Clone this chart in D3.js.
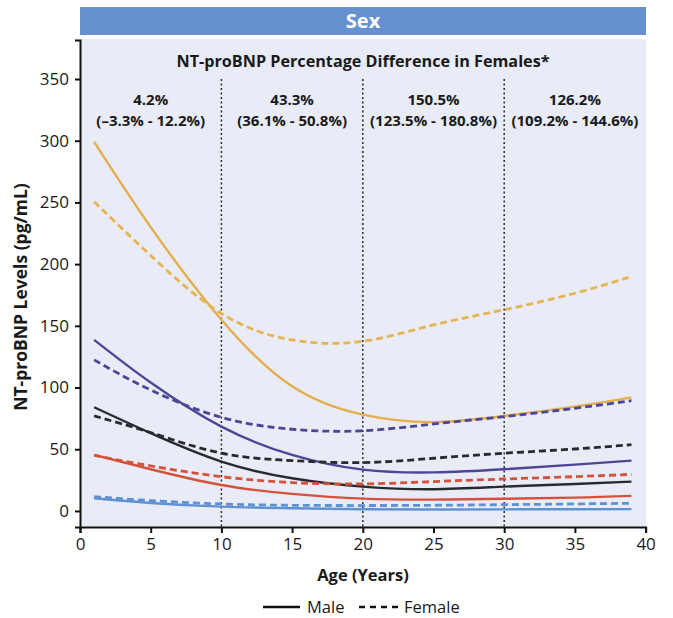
<!DOCTYPE html>
<html>
<head>
<meta charset="utf-8">
<script src="https://cdn.jsdelivr.net/npm/d3@7"></script>
<style>
  body { margin: 0; background: #fff; }
  svg { display: block; font-family: "Open Sans", sans-serif; }
</style>
</head>
<body>
<div id="chart"></div>
<script>

// --------------------------------------
//  Data
// --------------------------------------

const ages = [1, 5, 10, 15, 20, 25, 30, 35, 39];

const yellowMale   = [299, 230, 155, 101, 78, 72, 77, 84.5, 92];
const yellowFemale = [250.5, 207, 160, 138.6, 137.5, 150.7, 163, 176.4, 190];
const purpleMale   = [138.6, 104, 68.3, 45.4, 33.5, 31.3, 33.8, 37.5, 40.8];
const purpleFemale = [122.4, 98, 75.9, 66.2, 65, 70.5, 76.4, 83.2, 89.4];
const blackMale    = [84, 63, 40, 26.5, 19.7, 17.6, 19.7, 21.9, 23.8];
const blackFemale  = [77, 63.5, 46.8, 40.8, 39.2, 42.7, 46.8, 50.2, 53.7];
const redMale      = [45.4, 33.8, 21, 13.8, 10, 9.2, 9.9, 10.8, 12.2];
const redFemale    = [45, 36.5, 27.8, 23, 21.9, 23.8, 25.9, 27.8, 29.7];
const blueMale     = [10.3, 6.5, 3.5, 2.2, 1.4, 1.2, 1.3, 1.4, 1.5];
const blueFemale   = [11.6, 8.4, 5.7, 4.6, 4.4, 4.6, 5.1, 5.7, 6.2];

const dividers = [10, 20, 30];
const diffLabels = ["4.2%", "43.3%", "150.5%", "126.2%"];
const diffRanges = ["(\u20133.3% - 12.2%)", "(36.1% - 50.8%)", "(123.5% - 180.8%)", "(109.2% - 144.6%)"];
const diffCenters = [5, 15, 25, 35];

const xTicks = [0, 5, 10, 15, 20, 25, 30, 35, 40];
const yTicks = [0, 50, 100, 150, 200, 250, 300, 350];

const series = [
  {values: yellowMale,   color: "#e4ae4c", dashed: false},
  {values: yellowFemale, color: "#e6b352", dashed: true},
  {values: purpleMale,   color: "#4a4896", dashed: false},
  {values: purpleFemale, color: "#4a4896", dashed: true},
  {values: blackMale,    color: "#2a2a2e", dashed: false},
  {values: blackFemale,  color: "#2a2a2e", dashed: true},
  {values: redMale,      color: "#d4523c", dashed: false},
  {values: redFemale,    color: "#d4523c", dashed: true},
  {values: blueMale,     color: "#5e92d2", dashed: false},
  {values: blueFemale,   color: "#5e92d2", dashed: true}
];

// --------------------------------------
//  Canvas
// --------------------------------------

const width = 673;
const height = 618;
const plotLeft = 80, plotRight = 646, plotTop = 40, plotBottom = 527;

const svg = d3.select("#chart")
  .append("svg")
    .attr("width", width)
    .attr("height", height);

// --------------------------------------
//  Scales
// --------------------------------------

const x = d3.scaleLinear()
    .domain([0, 40])
    .range([plotLeft, 645.6]);

const y = d3.scaleLinear()
    .domain([-13, 381.6])
    .range([plotBottom, plotTop]);

// --------------------------------------
//  Header and panel
// --------------------------------------

svg.append("rect")
    .attr("x", plotLeft)
    .attr("y", 7)
    .attr("width", plotRight - plotLeft)
    .attr("height", 28)
    .attr("fill", "#6690d0");

svg.append("text")
    .attr("x", (plotLeft + plotRight) / 2)
    .attr("y", 28)
    .attr("text-anchor", "middle")
    .attr("fill", "#fff")
    .attr("font-weight", 700)
    .attr("font-size", 20)
    .text("Sex");

svg.append("rect")
    .attr("x", plotLeft)
    .attr("y", 39)
    .attr("width", plotRight - plotLeft)
    .attr("height", plotBottom - 39)
    .attr("fill", "#e9ecf7");

svg.append("text")
    .attr("x", (plotLeft + plotRight) / 2)
    .attr("y", 67)
    .attr("text-anchor", "middle")
    .attr("font-weight", 700)
    .attr("font-size", 16.2)
    .attr("fill", "#1a1a1a")
    .text("NT-proBNP Percentage Difference in Females*");

// dotted dividers
svg.selectAll(".divider")
  .data(dividers)
  .join("line")
    .attr("class", "divider")
    .attr("x1", d => x(d))
    .attr("x2", d => x(d))
    .attr("y1", y(350))
    .attr("y2", plotBottom)
    .attr("stroke", "#2a2a2a")
    .attr("stroke-width", 1.5)
    .attr("stroke-dasharray", "2,2.5");

svg.selectAll(".diff")
  .data(diffLabels)
  .join("text")
    .attr("class", "diff")
    .attr("x", (d, i) => x(diffCenters[i]))
    .attr("y", 105)
    .attr("text-anchor", "middle")
    .attr("font-weight", 700)
    .attr("font-size", 15)
    .attr("fill", "#1a1a1a")
    .text(d => d);

svg.selectAll(".range")
  .data(diffRanges)
  .join("text")
    .attr("class", "range")
    .attr("x", (d, i) => x(diffCenters[i]))
    .attr("y", 126)
    .attr("text-anchor", "middle")
    .attr("font-weight", 700)
    .attr("font-size", 15)
    .attr("fill", "#1a1a1a")
    .text(d => d);

// --------------------------------------
//  Lines
// --------------------------------------

const line = d3.line()
    .x((d, i) => x(ages[i]))
    .y(d => y(d))
    .curve(d3.curveNatural);

svg.selectAll(".series")
  .data(series)
  .join("path")
    .attr("class", "series")
    .attr("d", d => line(d.values))
    .attr("fill", "none")
    .attr("stroke", d => d.color)
    .attr("stroke-width", d => d.dashed ? 2.8 : 2.4)
    .attr("stroke-dasharray", d => d.dashed ? "7,4" : null);

// --------------------------------------
//  Axes
// --------------------------------------

const xAxis = svg.append("g")
    .attr("transform", `translate(0, ${plotBottom})`)
    .call(d3.axisBottom(x)
          .tickValues(xTicks)
          .tickSizeOuter(0)
          .tickSize(6)
          .tickPadding(5));

const yAxis = svg.append("g")
    .attr("transform", `translate(${plotLeft}, 0)`)
    .call(d3.axisLeft(y)
          .tickValues(yTicks)
          .tickSizeOuter(0)
          .tickSize(5)
          .tickPadding(6));

[xAxis, yAxis].forEach(g => {
  g.select(".domain").attr("stroke", "#111").attr("stroke-width", 2);
  g.selectAll(".tick line").attr("stroke", "#111").attr("stroke-width", 2);
  g.selectAll(".tick text")
      .attr("font-family", "Open Sans, sans-serif")
      .attr("font-size", 17)
      .attr("fill", "#1a1a1a");
});

svg.append("text")
    .attr("x", (plotLeft + plotRight) / 2)
    .attr("y", 581)
    .attr("text-anchor", "middle")
    .attr("font-weight", 700)
    .attr("font-size", 16.5)
    .attr("fill", "#1a1a1a")
    .text("Age (Years)");

svg.append("text")
    .attr("transform", `translate(27, 297) rotate(-90)`)
    .attr("text-anchor", "middle")
    .attr("font-weight", 700)
    .attr("font-size", 17.5)
    .attr("fill", "#1a1a1a")
    .text("NT-proBNP Levels (pg/mL)");

// --------------------------------------
//  Legend
// --------------------------------------

const legend = svg.append("g");

legend.append("line")
    .attr("x1", 263).attr("x2", 300)
    .attr("y1", 607).attr("y2", 607)
    .attr("stroke", "#111")
    .attr("stroke-width", 2.4);

legend.append("text")
    .attr("x", 307).attr("y", 613)
    .attr("font-size", 16.5)
    .attr("fill", "#1a1a1a")
    .text("Male");

legend.append("line")
    .attr("x1", 359).attr("x2", 401)
    .attr("y1", 607).attr("y2", 607)
    .attr("stroke", "#111")
    .attr("stroke-width", 2.4)
    .attr("stroke-dasharray", "6,5");

legend.append("text")
    .attr("x", 404).attr("y", 613)
    .attr("font-size", 16.5)
    .attr("fill", "#1a1a1a")
    .text("Female");

</script>
</body>
</html>
